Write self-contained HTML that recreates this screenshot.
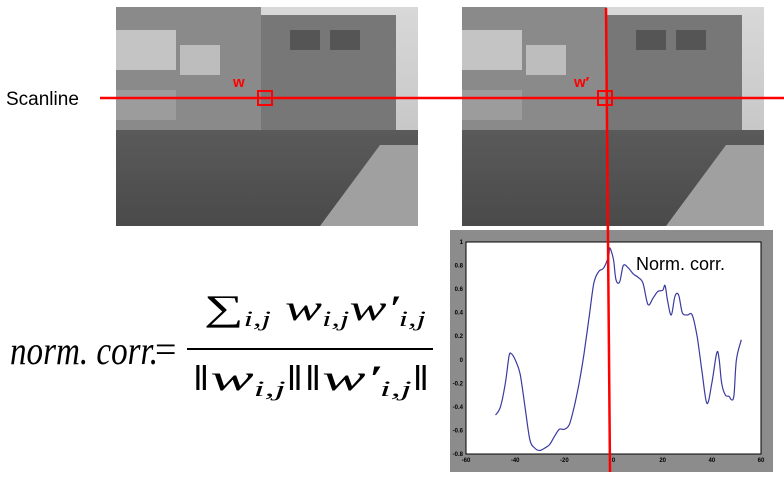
<!DOCTYPE html>
<html><head><meta charset="utf-8"><style>
body{margin:0;width:784px;height:480px;background:#fff;overflow:hidden;position:relative;font-family:"Liberation Sans",sans-serif}
.abs{position:absolute}
</style></head><body>
<svg class="abs" style="left:0;top:0" width="784" height="480">
<defs>
<linearGradient id="sky" x1="0" y1="0" x2="0" y2="1"><stop offset="0" stop-color="#d8d8d8"/><stop offset="1" stop-color="#bbb"/></linearGradient>
<linearGradient id="bush" x1="0" y1="0" x2="0" y2="1"><stop offset="0" stop-color="#5a5a5a"/><stop offset="1" stop-color="#4a4a4a"/></linearGradient>
</defs>
<g id="photo1">
<rect x="116" y="7" width="302" height="219" fill="url(#sky)"/>
<rect x="116" y="7" width="145" height="130" fill="#8a8a8a"/>
<rect x="116" y="30" width="60" height="40" fill="#c4c4c4"/>
<rect x="180" y="45" width="40" height="30" fill="#bdbdbd"/>
<rect x="116" y="90" width="60" height="30" fill="#9c9c9c"/>
<rect x="261" y="15" width="135" height="120" fill="#777"/>
<rect x="290" y="30" width="30" height="20" fill="#555"/>
<rect x="330" y="30" width="30" height="20" fill="#555"/>
<rect x="116" y="130" width="302" height="96" fill="url(#bush)"/>
<polygon points="380,145 418,145 418,226 320,226" fill="#a0a0a0"/>
</g>
<g id="photo2">
<rect x="462" y="7" width="302" height="219" fill="url(#sky)"/>
<rect x="462" y="7" width="145" height="130" fill="#8a8a8a"/>
<rect x="462" y="30" width="60" height="40" fill="#c4c4c4"/>
<rect x="526" y="45" width="40" height="30" fill="#bdbdbd"/>
<rect x="462" y="90" width="60" height="30" fill="#9c9c9c"/>
<rect x="607" y="15" width="135" height="120" fill="#777"/>
<rect x="636" y="30" width="30" height="20" fill="#555"/>
<rect x="676" y="30" width="30" height="20" fill="#555"/>
<rect x="462" y="130" width="302" height="96" fill="url(#bush)"/>
<polygon points="726,145 764,145 764,226 666,226" fill="#a0a0a0"/>
</g>
<rect x="450" y="230" width="323" height="242" fill="#8c8c8c"/>
<rect x="466" y="242" width="295" height="212" fill="#fff" stroke="#000" stroke-width="1"/>
<g id="axes" font-size="6" font-weight="bold" fill="#000"></g>
<path id="curve" fill="none" stroke="#3a3aa0" stroke-width="1.2"/>
<line x1="100" y1="98" x2="784" y2="98" stroke="#f00" stroke-width="2.5"/>
<line x1="606" y1="8" x2="610" y2="472" stroke="#f00" stroke-width="2.5"/>
<rect x="258" y="91" width="14" height="14" fill="none" stroke="#f00" stroke-width="2"/>
<rect x="598" y="91" width="14" height="14" fill="none" stroke="#f00" stroke-width="2"/>
<text x="233" y="87" fill="#f00" font-size="15" font-weight="bold">w</text>
<text x="574" y="87" fill="#f00" font-size="15" font-weight="bold">w′</text>
<text x="6" y="105" font-size="19" fill="#000">Scanline</text>
<text x="636" y="270" font-size="18" fill="#000">Norm. corr.</text>
<g font-family="Liberation Serif, serif" font-style="italic" fill="#000">
<text x="10" y="364" font-size="40" textLength="148" lengthAdjust="spacingAndGlyphs">norm. corr.</text>
<text x="155" y="362" font-size="38" font-style="normal">=</text>
<text x="204" y="320" font-size="36" textLength="222" lengthAdjust="spacingAndGlyphs"><tspan font-style="normal">∑</tspan><tspan font-size="22" dy="6">i,j</tspan><tspan dy="-6"> w</tspan><tspan font-size="22" dy="6">i,j</tspan><tspan dy="-6">w′</tspan><tspan font-size="22" dy="6">i,j</tspan></text>
<line x1="187" y1="349" x2="433" y2="349" stroke="#000" stroke-width="2"/>
<text x="192" y="390" font-size="36" textLength="238" lengthAdjust="spacingAndGlyphs"><tspan font-style="normal">‖</tspan>w<tspan font-size="22" dy="6">i,j</tspan><tspan font-style="normal" dy="-6">‖‖</tspan>w′<tspan font-size="22" dy="6">i,j</tspan><tspan font-style="normal" dy="-6">‖</tspan></text>
</g>
</svg>
<script>
const xs=[-48,-46,-44,-42.5,-41.5,-40,-38,-36,-34,-32,-30,-28,-26,-24,-22,-20,-18,-16,-14,-12,-10,-8,-6,-4,-2,-1.5,0,1,2.5,4,6,8,10,12,14,16,18,20,21,22,23.5,25,26.5,28,30,32,34,36,38,40,42,43,44,45.5,47,48,49,50,52];
const ys=[-0.47,-0.4,-0.2,0.03,0.05,0,-0.12,-0.4,-0.68,-0.75,-0.77,-0.75,-0.72,-0.65,-0.59,-0.59,-0.55,-0.4,-0.2,0.05,0.35,0.65,0.75,0.78,0.88,0.95,0.85,0.68,0.66,0.8,0.78,0.73,0.7,0.65,0.47,0.52,0.58,0.59,0.63,0.5,0.38,0.54,0.55,0.4,0.38,0.38,0.2,-0.1,-0.37,-0.2,0.06,0,-0.2,-0.3,-0.31,-0.34,-0.3,0,0.17];
const xTicks=[-60,-40,-20,0,20,40,60];
const yTicks=[-0.8,-0.6,-0.4,-0.2,0,0.2,0.4,0.6,0.8,1];
const X=v=>466+(v+60)/120*295, Y=v=>454-(v+0.8)/1.8*212;
const P=xs.map((x,i)=>[X(x),Y(ys[i])]);
let d='M'+P[0][0].toFixed(1)+','+P[0][1].toFixed(1);
for(let i=0;i<P.length-1;i++){const p0=P[Math.max(i-1,0)],p1=P[i],p2=P[i+1],p3=P[Math.min(i+2,P.length-1)];
const c1=[p1[0]+(p2[0]-p0[0])/6,p1[1]+(p2[1]-p0[1])/6],c2=[p2[0]-(p3[0]-p1[0])/6,p2[1]-(p3[1]-p1[1])/6];
d+=' C'+c1.map(v=>v.toFixed(1))+' '+c2.map(v=>v.toFixed(1))+' '+p2.map(v=>v.toFixed(1));}
document.getElementById('curve').setAttribute('d',d);
const g=document.getElementById('axes'),NS='http://www.w3.org/2000/svg';
xTicks.forEach(t=>{const e=document.createElementNS(NS,'text');e.setAttribute('x',X(t));e.setAttribute('y',462);e.setAttribute('text-anchor','middle');e.textContent=t;


g.appendChild(e);});
yTicks.forEach(t=>{const e=document.createElementNS(NS,'text');e.setAttribute('x',463);e.setAttribute('y',Y(t)+2);e.setAttribute('text-anchor','end');e.textContent=t;


g.appendChild(e);});
</script>
</body></html>
